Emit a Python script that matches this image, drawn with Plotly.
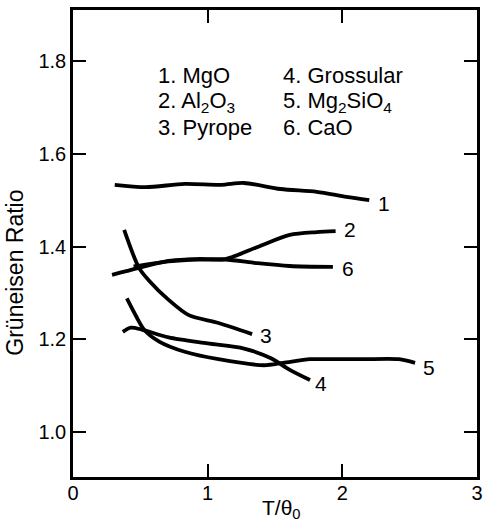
import plotly.graph_objects as go

# ---- data ----
mgo_x = [0.31, 0.54, 0.83, 1.10, 1.27, 1.54, 1.81, 2.03, 2.20]
mgo_y = [1.533, 1.528, 1.535, 1.533, 1.537, 1.524, 1.518, 1.507, 1.500]

al2o3_x = [0.29, 0.49, 0.71, 0.93, 1.13, 1.37, 1.61, 1.81, 1.95]
al2o3_y = [1.339, 1.354, 1.369, 1.373, 1.373, 1.399, 1.425, 1.431, 1.433]

pyrope_x = [0.38, 0.49, 0.56, 0.71, 0.86, 1.08, 1.33]
pyrope_y = [1.436, 1.354, 1.328, 1.285, 1.252, 1.235, 1.211]

gross_x = [0.37, 0.43, 0.51, 0.71, 1.00, 1.27, 1.47, 1.61, 1.76]
gross_y = [1.216, 1.225, 1.221, 1.204, 1.191, 1.180, 1.159, 1.134, 1.112]

mg2sio4_x = [0.40, 0.47, 0.53, 0.64, 0.83, 1.08, 1.42, 1.56, 1.76, 1.91, 2.15, 2.42, 2.54]
mg2sio4_y = [1.288, 1.249, 1.220, 1.195, 1.173, 1.157, 1.144, 1.149, 1.157, 1.157, 1.157, 1.157, 1.149]

cao_x = [0.45, 0.71, 0.93, 1.13, 1.37, 1.61, 1.93]
cao_y = [1.357, 1.368, 1.372, 1.372, 1.364, 1.358, 1.356]

curve_numbers = ["1", "2", "3", "4", "5", "6"]
legend_col1 = ["1. MgO", "2. Al<sub>2</sub>O<sub>3</sub>", "3. Pyrope"]
legend_col2 = ["4. Grossular", "5. Mg<sub>2</sub>SiO<sub>4</sub>", "6. CaO"]

x_ticks = [0, 1, 2, 3]
y_ticks = [1.0, 1.2, 1.4, 1.6, 1.8]

FONT = "Arial, 'Liberation Sans', Helvetica, sans-serif"

series = [
    (mgo_x, mgo_y),
    (al2o3_x, al2o3_y),
    (pyrope_x, pyrope_y),
    (gross_x, gross_y),
    (mg2sio4_x, mg2sio4_y),
    (cao_x, cao_y),
]

fig = go.Figure()
for xs, ys in series:
    fig.add_trace(go.Scatter(
        x=xs, y=ys, mode="lines",
        line=dict(color="black", width=3.8, shape="spline", smoothing=0.8),
        showlegend=False, hoverinfo="skip",
    ))

# curve number labels just beyond curve ends
label_offsets = [(0.11, -0.008), (0.11, 0.003), (0.10, -0.002), (0.08, -0.008), (0.10, -0.009), (0.11, -0.003)]
for (xs, ys), num, (dx, dy) in zip(series, curve_numbers, label_offsets):
    fig.add_annotation(x=xs[-1] + dx, y=ys[-1] + dy, text=num, showarrow=False,
                       font=dict(family=FONT, size=21, color="black"),
                       xanchor="center", yanchor="middle")

# legend text block
row_y = [1.768, 1.712, 1.656]
for txt, yy in zip(legend_col1, row_y):
    fig.add_annotation(x=0.615, y=yy, text=txt, showarrow=False, xanchor="left", yanchor="middle",
                       font=dict(family=FONT, size=22, color="black"))
for txt, yy in zip(legend_col2, row_y):
    fig.add_annotation(x=1.545, y=yy, text=txt, showarrow=False, xanchor="left", yanchor="middle",
                       font=dict(family=FONT, size=22, color="black"))

# axis titles
fig.add_annotation(x=-0.143, xref="paper", y=0.438, yref="paper", text="Grüneisen Ratio",
                   textangle=-90, showarrow=False, xanchor="center", yanchor="middle",
                   font=dict(family=FONT, size=23, color="black"))
fig.add_annotation(x=0.515, xref="paper", y=-0.069, yref="paper", text="T/θ<sub>0</sub>",
                   showarrow=False, xanchor="center", yanchor="middle",
                   font=dict(family=FONT, size=21, color="black"))

axis_common = dict(showline=True, linecolor="black", linewidth=2.5, mirror="ticks",
                   ticks="inside", ticklen=13, tickwidth=2, tickcolor="black",
                   showgrid=False, zeroline=False,
                   tickfont=dict(family=FONT, size=20, color="black"))

fig.update_xaxes(range=[0, 3], tickvals=x_ticks, ticktext=[str(v) for v in x_ticks],
                 ticklabelstandoff=-4, **axis_common)
fig.update_yaxes(range=[0.903, 1.91], tickvals=y_ticks, ticktext=[f"{v:.1f}" for v in y_ticks], **axis_common)

fig.update_layout(width=489, height=521, margin=dict(l=73, r=6, t=10, b=44),
                  paper_bgcolor="white", plot_bgcolor="white",
                  font=dict(family=FONT, color="black"))

fig.write_html("out.html")
